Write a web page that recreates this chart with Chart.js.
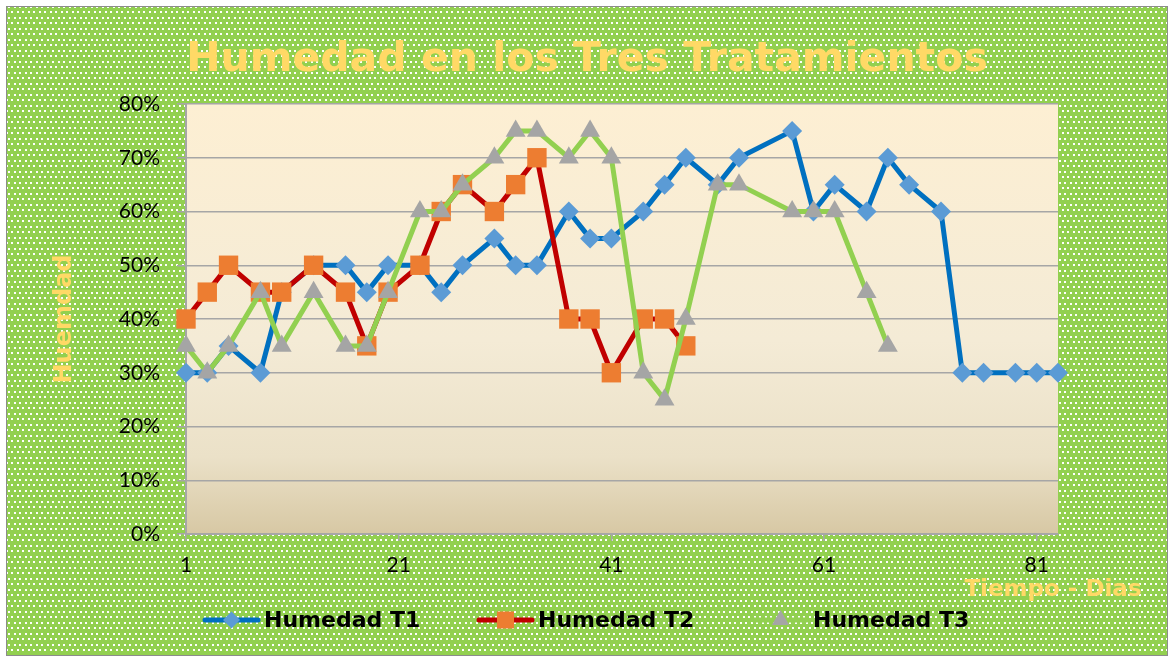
<!DOCTYPE html>
<html>
<head>
<meta charset="utf-8">
<script src="https://cdn.jsdelivr.net/npm/chart.js@4.4.1/dist/chart.umd.min.js"></script>
<style>
  html, body { margin: 0; padding: 0; background: #fff; }
  #wrap { width: 1174px; height: 662px; }
</style>
</head>
<body>
<div id="wrap"><canvas id="grafica" width="1174" height="662"></canvas></div>
<script>
// dias de medicion
const dias = [1, 3, 5, 8, 10, 13, 16, 18, 20, 23, 25, 27, 30, 32, 34, 37, 39, 41, 44, 46, 48,
              51, 53, 58, 60, 62, 65, 67, 69, 72, 74, 76, 79, 81, 83];

// humedad (%) por tratamiento
const humedadT1 = [30, 30, 35, 30, 45, 50, 50, 45, 50, 50, 45, 50, 55, 50, 50, 60, 55, 55, 60, 65, 70,
                   65, 70, 75, 60, 65, 60, 70, 65, 60, 30, 30, 30, 30, 30];
const humedadT2 = [40, 45, 50, 45, 45, 50, 45, 35, 45, 50, 60, 65, 60, 65, 70, 40, 40, 30, 40, 40, 35];
const humedadT3 = [35, 30, 35, 45, 35, 45, 35, 35, 45, 60, 60, 65, 70, 75, 75, 70, 75, 70, 30, 25, 40,
                   65, 65, 60, 60, 60, 45, 35];

const nombres = ['Humedad T1', 'Humedad T2', 'Humedad T3'];
const ticksX = [1, 21, 41, 61, 81];
const ticksY = [0, 10, 20, 30, 40, 50, 60, 70, 80];

const puntos = (valores) => valores.map((v, i) => ({ x: dias[i], y: v }));

function patron(ctx) {
    const t = document.createElement('canvas');
    t.width = 11; t.height = 11;
    const c = t.getContext('2d');
    c.fillStyle = '#92d050';
    c.fillRect(0, 0, 11, 11);
    c.fillStyle = '#ffffff';
    c.fillRect(0, 0, 2, 2);
    c.fillRect(6, 0, 2, 2);
    c.fillRect(3, 6, 2, 2);
    c.fillRect(8, 6, 2, 2);
    return ctx.createPattern(t, 'repeat');
}

const fondo = {
    id: 'fondo',
    beforeDraw(chart) {
        const { ctx, width, height, chartArea: a } = chart;
        ctx.save();
        ctx.fillStyle = '#ffffff';
        ctx.fillRect(0, 0, width, height);
        ctx.fillStyle = patron(ctx);
        ctx.fillRect(6, 6, width - 12, height - 12);
        ctx.strokeStyle = '#8c8c8c';
        ctx.lineWidth = 1;
        ctx.strokeRect(6.5, 6.5, width - 13, height - 13);

        const g = ctx.createLinearGradient(0, a.top, 0, a.bottom);
        g.addColorStop(0, '#fdefd3');
        g.addColorStop(0.55, '#f4ebd6');
        g.addColorStop(0.82, '#ebe1c8');
        g.addColorStop(1, '#d7c8a4');
        ctx.fillStyle = g;
        ctx.fillRect(a.left, a.top, a.right - a.left, a.bottom - a.top);
        ctx.restore();
    }
};

const leyenda = {
    id: 'leyenda',
    afterDraw(chart) {
        const { ctx } = chart;
        const inicio = [203, 477, 752];
        const radios = [8.5, 12, 10];
        const y = 620;
        chart.data.datasets.forEach((ds, i) => {
            const x = inicio[i];
            ctx.save();
            ctx.strokeStyle = ds.borderColor;
            ctx.lineWidth = 5;
            ctx.lineCap = 'round';
            ctx.beginPath();
            ctx.moveTo(x + 2, y);
            ctx.lineTo(x + 55, y);
            ctx.stroke();
            ctx.fillStyle = ds.pointBackgroundColor;
            Chart.helpers.drawPoint(ctx, { pointStyle: ds.pointStyle, radius: radios[i], rotation: 0, borderWidth: 0 }, x + 28.5, y);
            ctx.fillStyle = '#000000';
            ctx.font = 'bold 22px "DejaVu Sans"';
            ctx.textBaseline = 'middle';
            ctx.textAlign = 'left';
            ctx.fillText(ds.label, x + 61, y + 1);
            ctx.restore();
        });

        // titulo eje x
        ctx.save();
        ctx.fillStyle = '#ffd966';
        ctx.font = 'bold 23px "DejaVu Sans"';
        ctx.textAlign = 'center';
        ctx.textBaseline = 'middle';
        ctx.fillText('Tiempo - Dias', 1053, 590);
        ctx.restore();
    }
};

const grafica = document.querySelector('#grafica');

new Chart(grafica, {
    type: 'line',
    data: {
        datasets: [{
            label: nombres[0],
            data: puntos(humedadT1),
            borderColor: '#0070c0',
            pointBackgroundColor: '#5b9bd5',
            pointStyle: 'rectRot',
            pointRadius: 10,
            order: 3
        }, {
            label: nombres[1],
            data: puntos(humedadT2),
            borderColor: '#c00000',
            pointBackgroundColor: '#ed7d31',
            pointStyle: 'rect',
            pointRadius: 13.7,
            order: 2
        }, {
            label: nombres[2],
            data: puntos(humedadT3),
            borderColor: '#92d050',
            pointBackgroundColor: '#a5a5a5',
            pointStyle: 'triangle',
            pointRadius: 11.5,
            order: 1
        }]
    },
    options: {
        responsive: false,
        animation: false,
        devicePixelRatio: 1,
        layout: { padding: 0 },
        elements: {
            line: { borderWidth: 5, tension: 0, borderJoinStyle: 'round', borderCapStyle: 'round' },
            point: { borderWidth: 0, hoverRadius: 10 }
        },
        datasets: { line: { clip: false } },
        scales: {
            x: {
                type: 'linear',
                min: 1,
                max: 83,
                afterBuildTicks: (s) => { s.ticks = ticksX.map(v => ({ value: v })); },
                afterFit: (s) => { s.height = 128; },
                grid: { drawOnChartArea: false, color: '#a6a6a6', tickLength: 7, lineWidth: 1.5 },
                border: { color: '#a6a6a6', width: 2 },
                ticks: { color: '#000000', font: { family: 'Lato', size: 21 }, padding: 12, maxRotation: 0 }
            },
            y: {
                min: 0,
                max: 80,
                afterBuildTicks: (s) => { s.ticks = ticksY.map(v => ({ value: v })); },
                afterFit: (s) => { s.width = 186; },
                grid: { color: '#a6a6a6', tickLength: 9, lineWidth: 1.5 },
                border: { color: '#a6a6a6', width: 2 },
                ticks: {
                    color: '#000000',
                    font: { family: 'Lato', size: 21 },
                    padding: 17,
                    callback: (v) => v + '%'
                },
                title: {
                    display: true,
                    text: 'Huemdad',
                    color: '#ffd966',
                    font: { family: 'DejaVu Sans', size: 24, weight: 'bold' },
                    padding: { top: 50, bottom: 0 }
                }
            },
            margen: {
                position: 'right',
                display: true,
                grid: { display: false },
                border: { display: false },
                ticks: { display: false },
                afterFit: (s) => { s.width = 116; }
            }
        },
        plugins: {
            legend: { display: false },
            tooltip: { enabled: false },
            title: {
                display: true,
                text: 'Humedad en los Tres Tratamientos',
                color: '#ffd966',
                font: { family: 'DejaVu Sans', size: 41, weight: 'bold' },
                padding: { top: 36, bottom: 18.8 }
            }
        }
    },
    plugins: [fondo, leyenda]
});
</script>
</body>
</html>
